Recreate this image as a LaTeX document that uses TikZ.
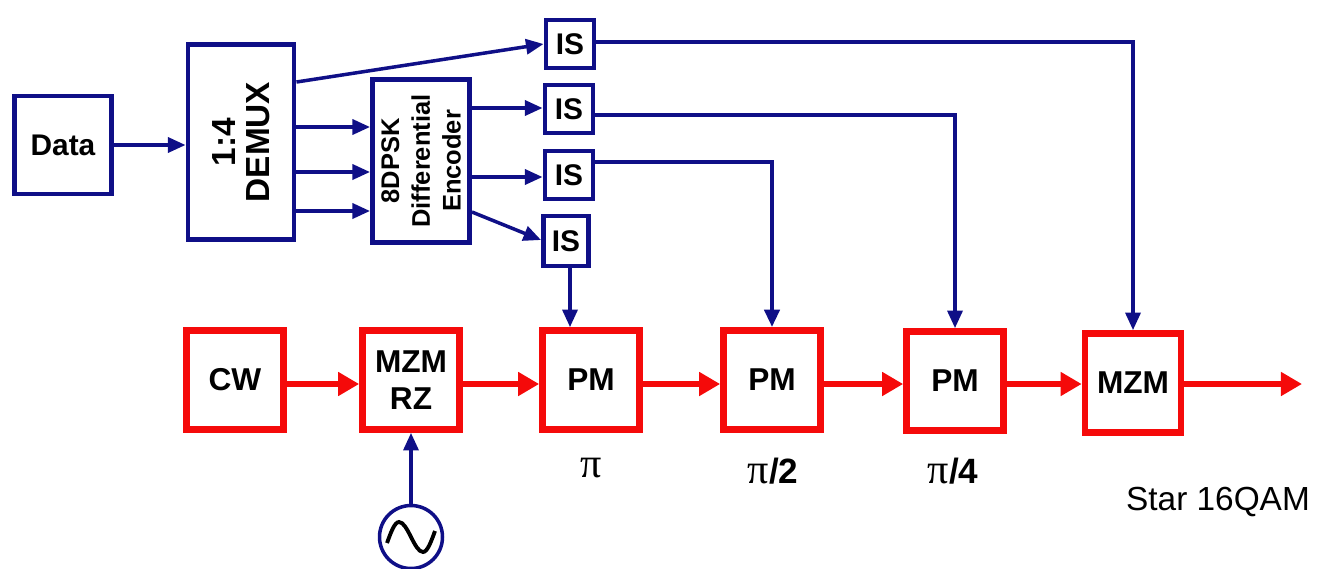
\documentclass[tikz,border=0pt]{standalone}
\usepackage{fontspec}
\setmainfont{Liberation Sans}
\newfontfamily\serifpi{Liberation Serif}
\usetikzlibrary{arrows.meta,calc}
\definecolor{navy}{RGB}{15,15,135}
\definecolor{myred}{RGB}{245,10,10}
\begin{document}
\begin{tikzpicture}[x=0.02cm,y=-0.02cm,
  bbox/.style={draw=navy,line width=2.8pt,inner sep=0pt,align=center,
    font=\bfseries\fontsize{17}{19}\selectfont},
  isbox/.style={bbox,minimum width=0.96cm,minimum height=0.96cm},
  rbox/.style={draw=myred,line width=3.8pt,minimum width=1.94cm,minimum height=1.98cm,
    inner sep=0pt,align=center,font=\bfseries\fontsize{18}{21}\selectfont},
  barrow/.style={draw=navy,line width=2pt,-{Triangle[length=10pt,width=8.5pt]}},
  rarrow/.style={draw=myred,line width=3.4pt,-{Triangle[length=12pt,width=13pt]}},
  lbl/.style={inner sep=0pt,font=\fontsize{20}{22}\selectfont},
  pisym/.style={}]
\useasboundingbox (0,0) rectangle (1321,568);

% blue part
\node[bbox,minimum width=1.94cm,minimum height=1.96cm] (data) at (63,145) {Data};
\node[bbox,minimum width=2.12cm,minimum height=3.9cm] (demux) at (241,142) {};
\node[rotate=90,align=center,inner sep=0pt,font=\bfseries\fontsize{19}{19.5}\selectfont] (demuxt) at (demux.center) {1:4\\DEMUX};
\node[bbox,minimum width=1.94cm,minimum height=3.26cm] (enc) at (421,161) {};
\node[rotate=90,align=center,inner sep=0pt,font=\bfseries\fontsize{14.5}{17.5}\selectfont] (enct) at (enc.center) {8DPSK\\Differential\\Encoder};
\node[isbox] (is1) at (570,44) {IS};
\node[isbox] (is2) at (569,109) {IS};
\node[isbox] (is3) at (569,175) {IS};
\node[isbox,minimum width=0.9cm,minimum height=1.0cm] (is4) at (566,241) {IS};

% red part
\node[rbox] (cw) at (235,380) {CW};
\node[rbox] (mzmrz) at (411,380) {MZM\\RZ};
\node[rbox] (pm1) at (591,380) {PM};
\node[rbox] (pm2) at (772,380) {PM};
\node[rbox] (pm3) at (955,381) {PM};
\node[rbox,minimum width=1.92cm] (mzm) at (1133,383) {MZM};
\coordinate (out) at (1302,383);

% oscillator
\node[circle,draw=navy,line width=2pt,minimum size=1.26cm,inner sep=0pt] (osc) at (411,537) {};
\draw[line width=2.2pt,black] ($(osc.center)+(-24,6)$) sin ($(osc.center)+(-12,-15)$) cos ($(osc.center)+(0,0)$) sin ($(osc.center)+(12,15)$) cos ($(osc.center)+(24,-6)$);

% labels
\node[lbl] (l1) at (591,468) {{\serifpi\fontsize{24}{24}\selectfont π}};
\node[lbl] (l2) at (773,471) {{\serifpi\fontsize{24}{24}\selectfont π}\textbf{/2}};
\node[lbl] (l3) at (953,471) {{\serifpi\fontsize{24}{24}\selectfont π}\textbf{/4}};
\node[inner sep=0pt,font=\fontsize{19}{21}\selectfont] (star) at (1218,502) {Star 16QAM};

% blue connectors
\draw[barrow] (data.east |- 0,145) -- (demux.west |- 0,145);
\draw[barrow] (demux.east |- 0,82) -- (is1.west);
\foreach \yy in {127,172,211}
  \draw[barrow] (demux.east |- 0,\yy) -- (enc.west |- 0,\yy);
\draw[barrow] (enc.east |- 0,108) -- (is2.west |- 0,108);
\draw[barrow] (enc.east |- 0,177) -- (is3.west |- 0,177);
\draw[barrow] (enc.east |- 0,212) -- (is4.west |- 0,240);
\draw[barrow] (is1.east |- 0,42) -| (mzm.north);
\draw[barrow] (is2.east |- 0,115) -| (pm3.north);
\draw[barrow,line width=2.6pt] (is3.east |- 0,162) -| (pm2.north);
\draw[barrow] (is4.south -| 570,0) -- (pm1.north -| 570,0);
\draw[barrow] (osc.north) -- (mzmrz.south);

% red connectors
\draw[rarrow] (cw.east |- 0,384) -- (mzmrz.west |- 0,384);
\draw[rarrow] (mzmrz.east |- 0,384) -- (pm1.west |- 0,384);
\draw[rarrow] (pm1.east |- 0,384) -- (pm2.west |- 0,384);
\draw[rarrow] (pm2.east |- 0,384) -- (pm3.west |- 0,384);
\draw[rarrow] (pm3.east |- 0,384) -- (mzm.west |- 0,384);
\draw[rarrow] (mzm.east |- 0,384) -- (out |- 0,384);
\end{tikzpicture}
\end{document}
